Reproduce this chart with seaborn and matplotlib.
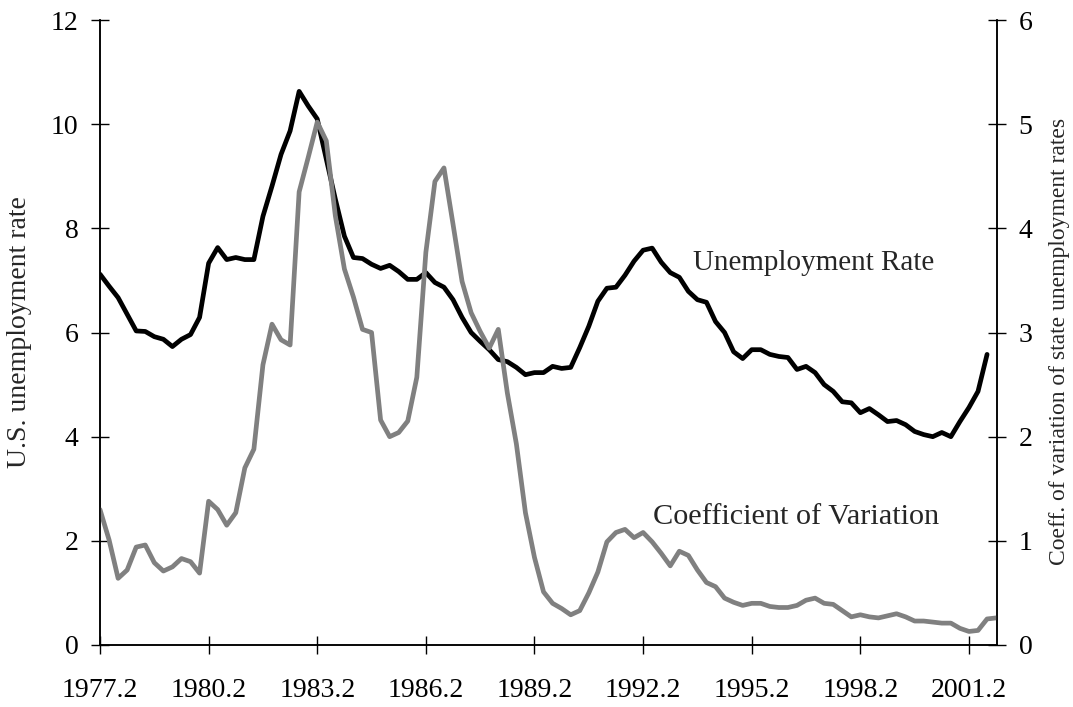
import numpy as np
import pandas as pd
import matplotlib
matplotlib.use('Agg')
import matplotlib.pyplot as plt
import seaborn as sns

sns.set_style('ticks')
plt.rcParams['font.family'] = ['Liberation Serif', 'DejaVu Serif']

# Quarterly data, 1977.2 onwards (index 0 = 1977.2)
unemployment_rate = [
    7.12, 6.89, 6.67, 6.35, 6.03, 6.02, 5.92, 5.87, 5.73, 5.87,
    5.96, 6.29, 7.33, 7.63, 7.40, 7.44, 7.40, 7.40, 8.23, 8.81,
    9.42, 9.87, 10.63, 10.35, 10.10, 9.33, 8.56, 7.85, 7.44, 7.42,
    7.31, 7.23, 7.29, 7.17, 7.02, 7.02, 7.15, 6.96, 6.87, 6.63,
    6.29, 6.00, 5.83, 5.67, 5.48, 5.44, 5.33, 5.19, 5.23, 5.23,
    5.35, 5.31, 5.33, 5.71, 6.12, 6.60, 6.85, 6.87, 7.10, 7.37,
    7.58, 7.62, 7.35, 7.15, 7.06, 6.79, 6.63, 6.58, 6.21, 6.00,
    5.63, 5.50, 5.67, 5.67, 5.58, 5.54, 5.52, 5.29, 5.35, 5.23,
    5.00, 4.87, 4.67, 4.65, 4.46, 4.54, 4.42, 4.29, 4.31, 4.23,
    4.10, 4.04, 4.00, 4.08, 4.00, 4.29, 4.56, 4.87, 5.58,
]

coeff_variation = [
    1.30, 1.01, 0.64, 0.72, 0.94, 0.96, 0.79, 0.71, 0.75, 0.83,
    0.80, 0.69, 1.38, 1.30, 1.15, 1.27, 1.70, 1.88, 2.69, 3.08,
    2.93, 2.88, 4.35, 4.68, 5.02, 4.84, 4.12, 3.61, 3.34, 3.03,
    3.00, 2.16, 2.00, 2.04, 2.15, 2.57, 3.77, 4.45, 4.58, 4.04,
    3.49, 3.19, 3.01, 2.85, 3.03, 2.42, 1.93, 1.27, 0.84, 0.51,
    0.40, 0.35, 0.29, 0.33, 0.50, 0.70, 0.99, 1.08, 1.11, 1.03,
    1.08, 0.99, 0.88, 0.76, 0.90, 0.86, 0.72, 0.60, 0.56, 0.45,
    0.41, 0.38, 0.40, 0.40, 0.37, 0.36, 0.36, 0.38, 0.43, 0.45,
    0.40, 0.39, 0.33, 0.27, 0.29, 0.27, 0.26, 0.28, 0.30, 0.27,
    0.23, 0.23, 0.22, 0.21, 0.21, 0.16, 0.13, 0.14, 0.25, 0.26,
]

tick_labels = ['1977.2', '1980.2', '1983.2', '1986.2', '1989.2',
               '1992.2', '1995.2', '1998.2', '2001.2']

ur_df = pd.DataFrame({'q': np.arange(len(unemployment_rate)), 'rate': unemployment_rate})
cv_df = pd.DataFrame({'q': np.arange(len(coeff_variation)), 'cv': coeff_variation})

fig = plt.figure(figsize=(10.73, 7.07), dpi=100)
ax = fig.add_axes([0.0932, 0.0877, 0.836, 0.884])
ax2 = ax.twinx()

sns.lineplot(data=ur_df, x='q', y='rate', ax=ax, color='black', linewidth=3.4)
sns.lineplot(data=cv_df, x='q', y='cv', ax=ax2, color='#808080', linewidth=3.4)

ax.set_xlim(0, 99.1)
ax.set_ylim(0, 12)
ax2.set_ylim(0, 6)
ax.set_xticks(np.arange(0, 97, 12))
ax.set_xticklabels(tick_labels)
ax.set_yticks(np.arange(0, 13, 2))
ax2.set_yticks(np.arange(0, 7, 1))

for a in (ax, ax2):
    a.spines['top'].set_visible(False)
    for s in ('left', 'right', 'bottom'):
        a.spines[s].set_linewidth(1.1)
        a.spines[s].set_color('black')
    a.set_xlabel('')

ax.tick_params(axis='both', direction='inout', length=13, width=1, labelsize=20, colors='black')
ax.tick_params(axis='y', pad=9)
ax.tick_params(axis='x', pad=17)
ax2.tick_params(axis='y', direction='inout', length=13, width=1, labelsize=20, pad=9, colors='black')

ax.set_ylabel('U.S. unemployment rate', fontsize=20)
ax.yaxis.set_label_coords(-0.076, 0.5)
ax2.set_ylabel('Coeff. of variation of state unemployment rates', fontsize=17)
ax2.yaxis.set_label_coords(1.058, 0.485)

ax.text(65.5, 7.33, 'Unemployment Rate', fontsize=21, va='center', ha='left')
ax.text(61.1, 2.45, 'Coefficient of Variation', fontsize=21.8, va='center', ha='left')

fig.savefig('out.png', dpi=100)
